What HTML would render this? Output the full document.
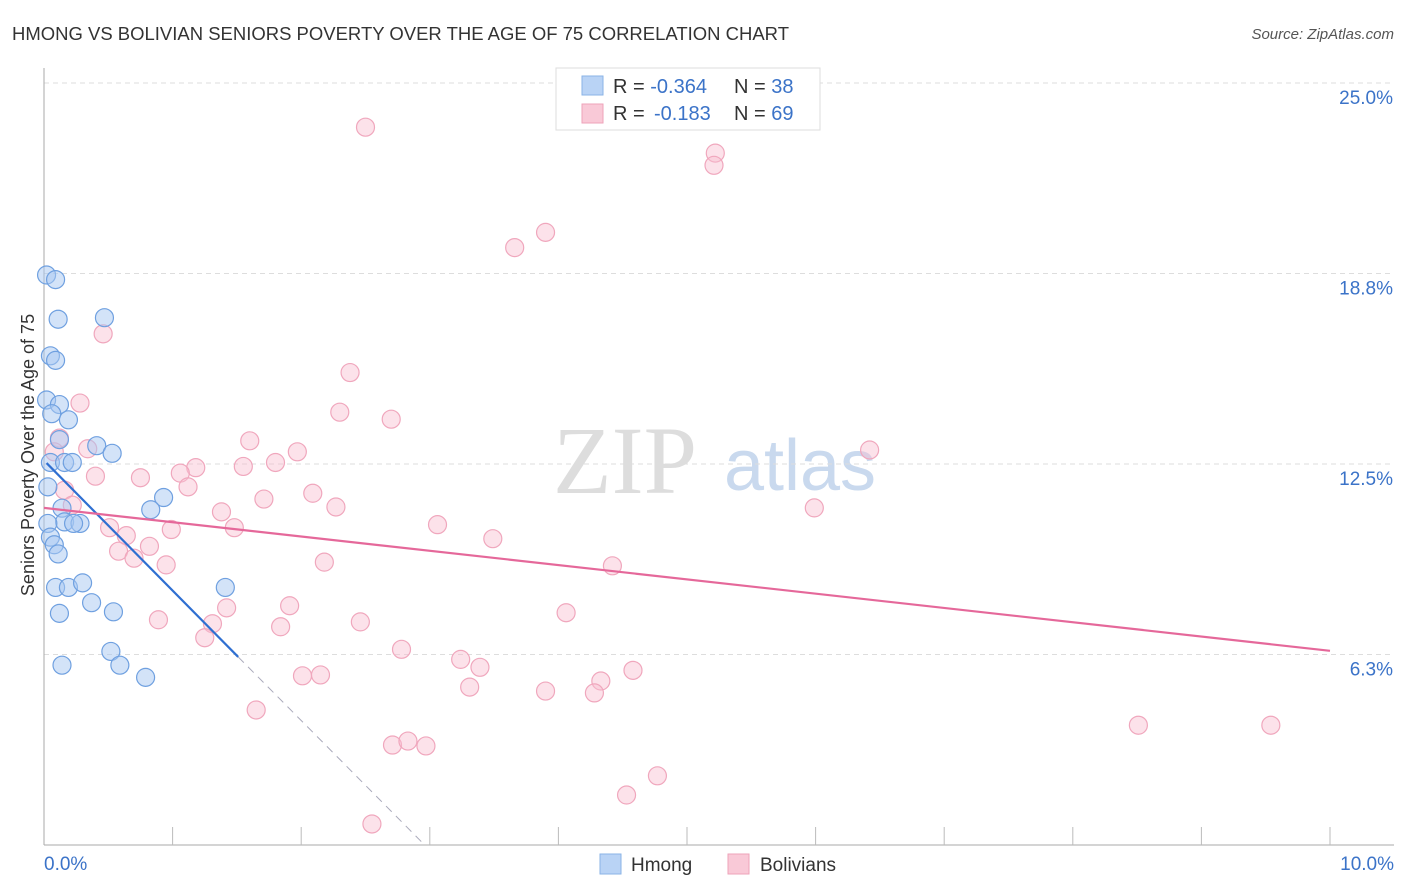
<!DOCTYPE html>
<html><head><meta charset="utf-8"><style>
body{margin:0;background:#fff;font-family:"Liberation Sans",sans-serif;}
svg{display:block}
</style></head><body>
<svg id="c" width="1406" height="892" xmlns="http://www.w3.org/2000/svg">
<text x="12" y="40" font-size="18" fill="#333" textLength="777" lengthAdjust="spacingAndGlyphs">HMONG VS BOLIVIAN SENIORS POVERTY OVER THE AGE OF 75 CORRELATION CHART</text>
<text x="1394" y="39" font-size="15" fill="#555" font-style="italic" text-anchor="end">Source: ZipAtlas.com</text>
<text x="625" y="493" font-size="96" fill="#ddd" font-family="Liberation Serif,serif" text-anchor="middle">ZIP</text>
<text x="800" y="490" font-size="72" fill="#c9d9ee" text-anchor="middle">atlas</text>
<text transform="translate(34,455) rotate(-90)" font-size="18" fill="#333" text-anchor="middle">Seniors Poverty Over the Age of 75</text>
<g id="grid"></g><g id="pts"></g><g id="lines"></g>
<g>
<rect x="556" y="68" width="264" height="62" fill="#fff" stroke="#ddd"/>
<rect x="582" y="76" width="21" height="19" fill="#b9d3f5" stroke="#8ab3e6"/>
<rect x="582" y="104" width="21" height="19" fill="#f9c9d7" stroke="#eea3ba"/>
<text x="613" y="93" font-size="20" fill="#333">R = <tspan fill="#3b73c8">-0.364</tspan><tspan x="734">N = </tspan><tspan fill="#3b73c8">38</tspan></text>
<text x="613" y="120" font-size="20" fill="#333">R = <tspan x="654" fill="#3b73c8">-0.183</tspan><tspan x="734">N = </tspan><tspan fill="#3b73c8">69</tspan></text>
</g>
<g>
<rect x="600" y="854" width="21" height="20" fill="#b9d3f5" stroke="#8ab3e6"/>
<text x="631" y="871" font-size="19" fill="#333">Hmong</text>
<rect x="728" y="854" width="21" height="20" fill="#f9c9d7" stroke="#eea3ba"/>
<text x="760" y="871" font-size="19" fill="#333">Bolivians</text>
</g>
</svg>
<script>
const yTicks=[25,18.75,12.5,6.25];
const yTickLabels=["25.0%","18.8%","12.5%","6.3%"];
const xTickLabels=["0.0%","10.0%"];
const hmongX=[0.02,0.09,0.11,0.47,0.05,0.09,0.02,0.12,0.06,0.19,0.12,0.41,0.53,0.05,0.16,0.22,0.03,0.14,0.16,0.28,0.93,0.83,0.03,0.23,0.05,0.08,0.11,0.09,0.19,0.3,0.37,0.54,0.12,1.41,0.52,0.14,0.59,0.79];
const hmongY=[18.7,18.55,17.25,17.3,16.05,15.9,14.6,14.45,14.15,13.95,13.3,13.1,12.85,12.55,12.55,12.55,11.75,11.05,10.6,10.55,11.4,11.0,10.55,10.55,10.1,9.85,9.55,8.45,8.45,8.6,7.95,7.65,7.6,8.45,6.35,5.9,5.9,5.5];
const bolX=[2.5,5.22,5.21,3.66,3.9,0.46,2.38,0.28,2.3,2.7,1.6,1.97,0.12,0.08,0.34,1.8,1.55,1.18,1.06,0.4,0.75,1.12,0.16,2.09,1.71,2.27,1.38,0.22,3.06,1.48,0.99,0.51,0.64,3.49,0.82,0.58,0.7,2.18,0.95,4.42,6.42,5.99,1.91,1.42,4.06,0.89,1.31,2.46,1.84,1.25,2.78,3.24,3.39,4.58,2.01,2.15,4.33,3.31,3.9,4.28,1.65,8.51,9.54,2.71,2.83,2.97,4.77,4.53,2.55];
const bolY=[23.55,22.7,22.3,19.6,20.1,16.77,15.5,14.5,14.2,13.97,13.26,12.9,13.35,12.9,13.0,12.55,12.42,12.38,12.2,12.1,12.05,11.75,11.64,11.54,11.35,11.09,10.93,11.15,10.51,10.41,10.35,10.41,10.15,10.05,9.8,9.64,9.41,9.28,9.19,9.16,12.96,11.06,7.85,7.78,7.62,7.39,7.26,7.32,7.16,6.8,6.42,6.09,5.83,5.73,5.55,5.58,5.38,5.18,5.05,4.99,4.43,3.93,3.93,3.28,3.41,3.25,2.27,1.64,0.69];
const hmongTrend=[[0.02,12.53],[1.51,6.17]];
const hmongDash=[[1.51,6.17],[2.96,0]];
const bolTrend=[[0,11.06],[10,6.37]];
const NS="http://www.w3.org/2000/svg";
const X=v=>44+v/10*1286, Y=v=>845-v/25*762;
function mk(t,a,p){const e=document.createElementNS(NS,t);for(const k in a)e.setAttribute(k,a[k]);document.getElementById(p).appendChild(e);return e;}
yTicks.forEach((t,i)=>{
 const g=mk('line',{x1:44,x2:1394,y1:Y(t),y2:Y(t),stroke:'#ddd','stroke-dasharray':'5,4'},'grid');
 
 
 const l=mk('text',{x:1393,y:Y(t)+21,'font-size':19,fill:'#3b73c8','text-anchor':'end'},'grid');
 l.textContent=yTickLabels[i];
 
 
});
const ax=mk('line',{x1:44,x2:44,y1:68,y2:845,stroke:'#aaa'},'grid');


const bx=mk('line',{x1:44,x2:1394,y1:845,y2:845,stroke:'#aaa'},'grid');


for(let i=1;i<=10;i++){const t=mk('line',{x1:X(i),x2:X(i),y1:827,y2:845,stroke:'#bbb'},'grid');
 
 }
[[0,'start',44],[10,'end',1394]].forEach((d,i)=>{const t=mk('text',{x:d[2],y:870,'font-size':19,fill:'#3b73c8','text-anchor':d[1]},'grid');t.textContent=xTickLabels[i];
 
 });
bolX.forEach((v,i)=>{const c=mk('circle',{cx:X(v),cy:Y(bolY[i]),r:9,fill:'rgba(249,190,208,0.45)',stroke:'#f0a7bd','stroke-width':1.2},'pts');
 
 });
hmongX.forEach((v,i)=>{const c=mk('circle',{cx:X(v),cy:Y(hmongY[i]),r:9,fill:'rgba(168,200,242,0.5)',stroke:'#6fa0e0','stroke-width':1.2},'pts');
 
 });
const l1=mk('line',{x1:X(hmongTrend[0][0]),y1:Y(hmongTrend[0][1]),x2:X(hmongTrend[1][0]),y2:Y(hmongTrend[1][1]),stroke:'#2f6fd1','stroke-width':2.2},'lines');


const l2=mk('line',{x1:X(hmongDash[0][0]),y1:Y(hmongDash[0][1]),x2:X(hmongDash[1][0]),y2:Y(hmongDash[1][1]),stroke:'#aab','stroke-width':1,'stroke-dasharray':'8,6'},'lines');


const l3=mk('line',{x1:X(bolTrend[0][0]),y1:Y(bolTrend[0][1]),x2:X(bolTrend[1][0]),y2:Y(bolTrend[1][1]),stroke:'#e5689a','stroke-width':2.2},'lines');


</script>
</body></html>
